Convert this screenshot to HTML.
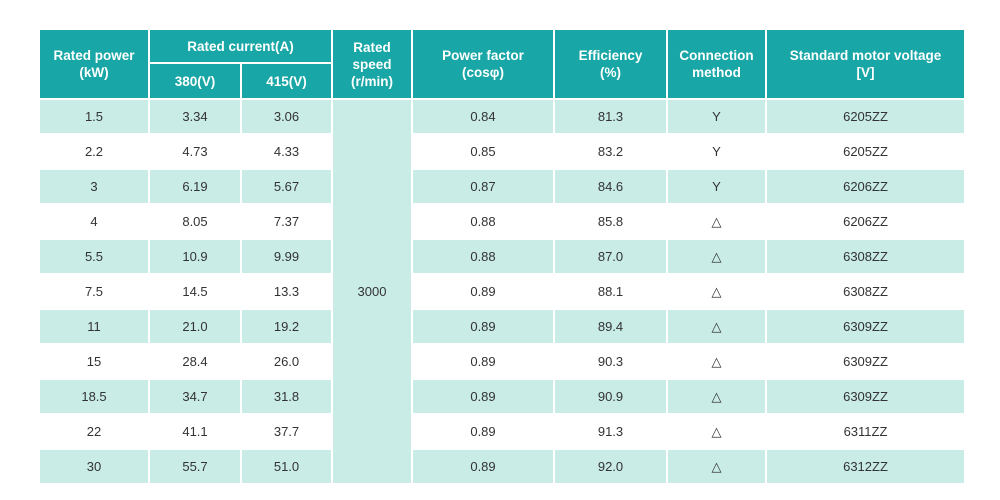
<!DOCTYPE html>
<html><head><meta charset="utf-8"><style>
body{margin:0;width:1000px;height:500px;background:#fff;font-family:"Liberation Sans",sans-serif;position:relative;overflow:hidden}
.c{position:absolute;box-sizing:border-box;display:flex;align-items:center;justify-content:center;text-align:center;font-size:13px;color:#333;border-right:2px solid #fff;border-bottom:2px solid #fff}
.h{background:#19a6a6;color:#fff;font-weight:bold;font-size:13.5px;line-height:17px}
.l{background:#c9ece7}
</style></head><body>
<script>
const xs=[40,150,242,333,413,555,668,767,966];
const rows=[["1.5","3.34","3.06","0.84","81.3","Y","6205ZZ"],["2.2","4.73","4.33","0.85","83.2","Y","6205ZZ"],["3","6.19","5.67","0.87","84.6","Y","6206ZZ"],["4","8.05","7.37","0.88","85.8","△","6206ZZ"],["5.5","10.9","9.99","0.88","87.0","△","6308ZZ"],["7.5","14.5","13.3","0.89","88.1","△","6308ZZ"],["11","21.0","19.2","0.89","89.4","△","6309ZZ"],["15","28.4","26.0","0.89","90.3","△","6309ZZ"],["18.5","34.7","31.8","0.89","90.9","△","6309ZZ"],["22","41.1","37.7","0.89","91.3","△","6311ZZ"],["30","55.7","51.0","0.89","92.0","△","6312ZZ"]];
function cell(x0,x1,y0,y1,html,cls,name){
const d=document.createElement('div');d.className='c '+cls;
d.style.left=x0+'px';d.style.top=y0+'px';d.style.width=(x1-x0)+'px';d.style.height=(y1-y0)+'px';
d.innerHTML=html;


document.body.appendChild(d);}
const T=30,M=64,B=100,R=35;
cell(xs[0],xs[1],T,B,'Rated power<br>(kW)','h','header-rated-power');
cell(xs[1],xs[3],T,M,'Rated current(A)','h','header-rated-current');
cell(xs[1],xs[2],M,B,'380(V)','h','header-380v');
cell(xs[2],xs[3],M,B,'415(V)','h','header-415v');
cell(xs[3],xs[4],T,B,'Rated<br>speed<br>(r/min)','h','header-rated-speed');
cell(xs[4],xs[5],T,B,'Power factor<br>(cosφ)','h','header-power-factor');
cell(xs[5],xs[6],T,B,'Efficiency<br>(%)','h','header-efficiency');
cell(xs[6],xs[7],T,B,'Connection<br>method','h','header-connection');
cell(xs[7],xs[8],T,B,'Standard motor voltage<br>[V]','h','header-voltage');
const cols=[0,1,2,4,5,6,7];
rows.forEach((r,i)=>{const y=B+i*R;const cls=i%2==0?'l':'';
r.forEach((v,j)=>{const k=cols[j];cell(xs[k],xs[k+1],y,y+R,v,cls,'cell-r'+(i+1)+'-c'+(j+1));});});
cell(xs[3],xs[4],B,B+11*R,'3000','l','rated-speed-value');
</script>
</body></html>
